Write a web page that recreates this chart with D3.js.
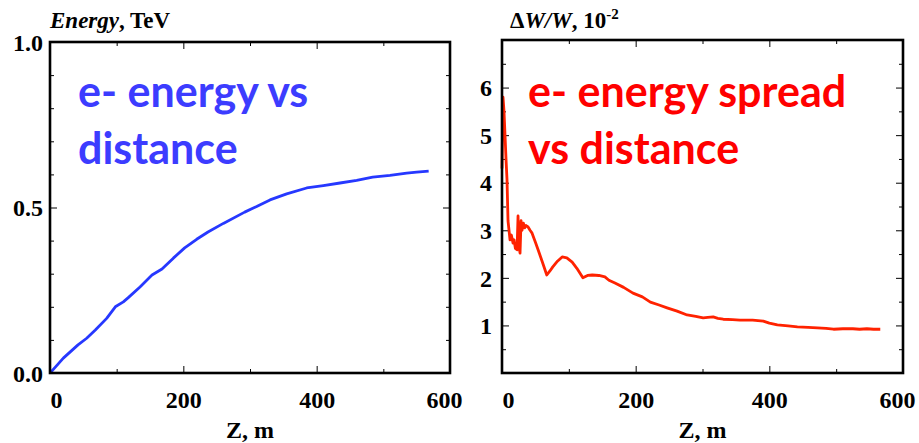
<!DOCTYPE html>
<html>
<head>
<meta charset="utf-8">
<script src="https://cdn.jsdelivr.net/npm/d3@7"></script>
<style>
body { margin: 0; background: #fff; }
svg { display: block; }
.tick text { font-family: "Liberation Serif", "Times New Roman", serif; font-weight: bold; font-size: 24px; fill: #000; }
.domain { display: none; }
.tick line { stroke: #000; stroke-width: 1; }
</style>
</head>
<body>
<svg width="919" height="443"></svg>
<script>
var svg = d3.select("svg");

// left panel: e- energy (TeV) vs Z (m)
var energyZ = [0, 2, 20, 42, 55, 68, 85, 98, 110, 117, 135, 153, 168, 185, 202, 220, 237, 260, 292, 310, 330, 355, 385, 410, 435, 460, 484, 510, 535, 550, 568];
var energyE = [0.0, 0.004, 0.045, 0.085, 0.105, 0.13, 0.165, 0.2, 0.215, 0.227, 0.26, 0.296, 0.314, 0.347, 0.378, 0.404, 0.426, 0.452, 0.486, 0.503, 0.523, 0.541, 0.559, 0.566, 0.574, 0.582, 0.592, 0.597, 0.604, 0.607, 0.61];

// right panel: energy spread (10^-2) vs Z (m)
var spreadZ = [0, 1.5, 3, 4.5, 6, 7.5, 9, 12, 14, 16.5, 18, 20, 22.5, 24, 25, 27, 28.5, 30, 32, 34, 36, 39, 42, 45, 50, 54, 60, 67, 72, 76, 83, 90, 97, 105, 112, 121, 128, 135, 145, 154, 160, 169, 182, 196, 210, 222, 235, 247, 262, 277, 290, 301, 308, 316, 323, 331, 345, 356, 375, 391, 400, 412, 428, 442, 458, 472, 485, 496, 510, 525, 535, 546, 556, 566];
var spreadW = [4.3, 5.8, 5.5, 5.0, 4.5, 4.06, 3.2, 2.8, 2.9, 2.73, 2.8, 2.62, 2.59, 3.3, 2.7, 2.52, 3.2, 3.0, 3.15, 3.05, 3.1, 3.07, 3.0, 2.94, 2.75, 2.59, 2.35, 2.06, 2.15, 2.23, 2.35, 2.44, 2.42, 2.33, 2.2, 2.0, 2.05, 2.06, 2.05, 2.02, 1.95, 1.89, 1.8, 1.68, 1.6, 1.49, 1.43, 1.37, 1.3, 1.22, 1.19, 1.16, 1.17, 1.18, 1.15, 1.13, 1.12, 1.11, 1.11, 1.09, 1.05, 1.01, 0.99, 0.97, 0.96, 0.95, 0.94, 0.92, 0.93, 0.93, 0.92, 0.93, 0.92, 0.92];

var xMajor = [0, 200, 400, 600];
var xMinor = [100, 300, 500];
var energyMajor = [0, 0.5, 1.0];
var energyMinor = [0.1, 0.2, 0.3, 0.4, 0.6, 0.7, 0.8, 0.9];
var spreadMajor = [1, 2, 3, 4, 5, 6];
var spreadMinor = [0.5, 1.5, 2.5, 3.5, 4.5, 5.5, 6.5];

function drawPanel(p) {
    var g = svg.append("g");
    var x = d3.scaleLinear().domain([0, 600]).range([p.left, p.right]);
    var y = d3.scaleLinear().domain(p.yDomain).range([p.bottom, p.top]);

    // bottom axis, ticks pointing in; end labels pulled inside a bit
    var bx = g.append("g").attr("transform", "translate(0," + p.bottom + ")")
        .call(d3.axisBottom(x).tickValues(xMajor).tickSize(-7).tickFormat(d3.format("d")));
    bx.selectAll("text").attr("y", 35).attr("dy", 0)
        .attr("dx", function (d) { return d === 0 ? 6 : (d === 600 ? -6 : 0); });
    g.append("g").attr("transform", "translate(0," + p.bottom + ")")
        .call(d3.axisBottom(x).tickValues(xMinor).tickSize(-4).tickFormat(""));
    g.append("g").attr("transform", "translate(0," + p.top + ")")
        .call(d3.axisTop(x).tickValues(xMajor).tickSize(-7).tickFormat(""));
    g.append("g").attr("transform", "translate(0," + p.top + ")")
        .call(d3.axisTop(x).tickValues(xMinor).tickSize(-4).tickFormat(""));

    var ly = g.append("g").attr("transform", "translate(" + p.left + ",0)")
        .call(d3.axisLeft(y).tickValues(p.yMajor).tickSize(-7).tickFormat(p.fmt));
    ly.selectAll("text").attr("x", -p.labelGap).attr("dy", "0.34em");
    g.append("g").attr("transform", "translate(" + p.left + ",0)")
        .call(d3.axisLeft(y).tickValues(p.yMinor).tickSize(-4).tickFormat(""));
    g.append("g").attr("transform", "translate(" + p.right + ",0)")
        .call(d3.axisRight(y).tickValues(p.yMajor).tickSize(-7).tickFormat(""));
    g.append("g").attr("transform", "translate(" + p.right + ",0)")
        .call(d3.axisRight(y).tickValues(p.yMinor).tickSize(-4).tickFormat(""));

    var line = d3.line().x(function (d) { return x(d[0]); }).y(function (d) { return y(d[1]); });
    var pts = p.xs.map(function (v, i) { return [v, p.ys[i]]; });
    g.append("path").datum(pts)
        .attr("d", line)
        .attr("fill", "none")
        .attr("stroke", p.lineColor)
        .attr("stroke-width", 2.8)
        .attr("stroke-linejoin", "round");

    g.append("rect")
        .attr("x", p.left).attr("y", p.top)
        .attr("width", p.right - p.left).attr("height", p.bottom - p.top)
        .attr("fill", "none").attr("stroke", "#000").attr("stroke-width", 2.6);

    g.append("text")
        .text("Z, m")
        .attr("x", (p.left + p.right) / 2)
        .attr("y", 438)
        .attr("style", "text-anchor: middle; font-family: 'Liberation Serif', serif; font-weight: bold; font-size: 24px;");

    var t = g.append("text")
        .attr("x", p.left + p.titleDx)
        .attr("y", 28)
        .attr("style", "font-family: 'Liberation Serif', serif; font-weight: bold; font-size: 23px;");
    p.title(t);

    var ann = g.append("text")
        .attr("fill", p.textColor)
        .attr("style", "font-family: Lato, 'Open Sans', sans-serif; font-weight: bold; font-size: 43px;");
    p.note.forEach(function (s, i) {
        ann.append("tspan").text(s).attr("x", p.noteX).attr("y", 107 + i * 57);
    });
}

drawPanel({
    left: 50, right: 450, top: 42, bottom: 373,
    yDomain: [0, 1], yMajor: energyMajor, yMinor: energyMinor, fmt: d3.format(".1f"), labelGap: 7,
    xs: energyZ, ys: energyE, lineColor: "#2638ff", textColor: "#3c3cff",
    titleDx: 0,
    title: function (t) {
        t.append("tspan").text("Energy").attr("font-style", "italic");
        t.append("tspan").text(", TeV");
    },
    note: ["e- energy vs", "distance"], noteX: 78
});

drawPanel({
    left: 502, right: 903, top: 40, bottom: 373,
    yDomain: [0, 7], yMajor: spreadMajor, yMinor: spreadMinor, fmt: d3.format("d"), labelGap: 10,
    xs: spreadZ, ys: spreadW, lineColor: "#ff2200", textColor: "#ff0000",
    titleDx: 8,
    title: function (t) {
        t.append("tspan").text("\u0394");
        t.append("tspan").text("W/W").attr("font-style", "italic");
        t.append("tspan").text(", 10");
        t.append("tspan").text("-2").attr("font-size", "15px").attr("dy", "-9");
    },
    note: ["e- energy spread", "vs distance"], noteX: 528
});
</script>
</body>
</html>
